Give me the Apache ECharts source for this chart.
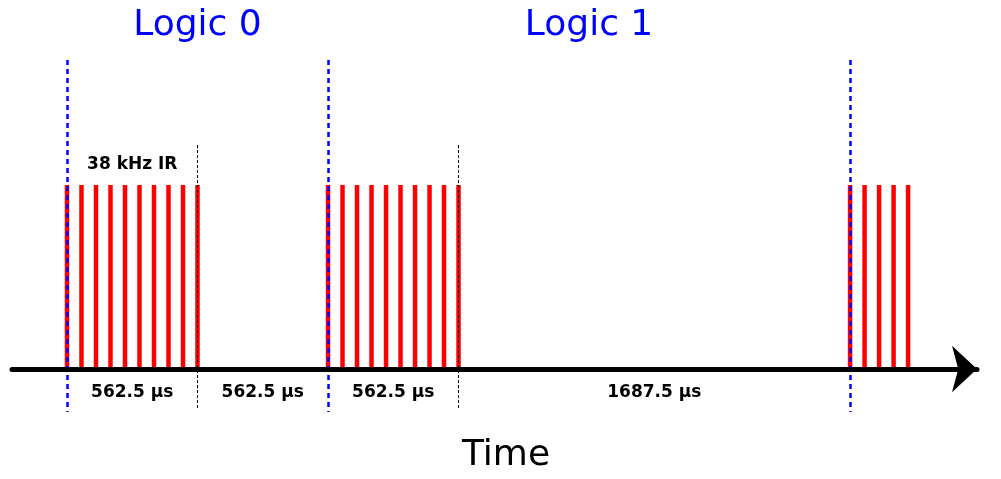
<!DOCTYPE html>
<html>
<head>
<meta charset="utf-8">
<script src="https://cdn.jsdelivr.net/npm/echarts@6/dist/echarts.min.js"></script>
<style>
  html, body { margin: 0; padding: 0; background: #fff; }
  #main { width: 1001px; height: 479px; }
</style>
</head>
<body>
<div id="main"></div>
<script>
// carrier stripes (µs) for each burst
var burst0 = [0, 62.5, 125, 187.5, 250, 312.5, 375, 437.5, 500, 562.5];
var burst1 = [1125, 1187.5, 1250, 1312.5, 1375, 1437.5, 1500, 1562.5, 1625, 1687.5];
var burst2 = [3375, 3437.5, 3500, 3562.5, 3625];
var pulseLevel = 1;

// bit boundaries (blue) and burst ends (black)
var bitEdges = [0, 1125, 3375];
var burstEnds = [562.5, 1687.5];

// duration labels
var spanCenters = [281.25, 843.75, 1406.25, 2531.25];
var spanLabels = ["562.5 µs", "562.5 µs", "562.5 µs", "1687.5 µs"];

// bit titles
var bitCenters = [562.5, 2250];
var bitTitles = ["Logic 0", "Logic 1"];

var carrierLabel = "38 kHz IR";
var carrierCenter = 281.25;

var myChart = echarts.init(document.getElementById('main'), null, { renderer: 'canvas' });

var stripes = [];
[burst0, burst1, burst2].forEach(function (b) {
  b.forEach(function (t) { stripes.push([t, pulseLevel]); });
});

var vLines = [];
bitEdges.forEach(function (t) {
  vLines.push([
    { coord: [t, 1.679], lineStyle: { color: '#0000ff', width: 2.5, type: [5, 4] } },
    { coord: [t, -0.234] }
  ]);
});
burstEnds.forEach(function (t) {
  vLines.push([
    { coord: [t, 1.217], lineStyle: { color: '#000', width: 1, type: [3, 2] } },
    { coord: [t, -0.223] }
  ]);
});

var font = '"DejaVu Sans", Verdana, sans-serif';

// text-only scatter layer
function textLayer(points, y, names, size, weight, color) {
  return {
    type: 'scatter',
    symbolSize: 0,
    z: 7,
    itemStyle: { opacity: 1 },
    data: points.map(function (t, i) { return { value: [t, y], name: names[i] }; }),
    label: {
      show: true, position: 'inside', formatter: '{b}',
      fontFamily: font, fontSize: size, fontWeight: weight, color: color
    }
  };
}

var option = {
  animation: false,
  grid: { left: 12, right: 24, top: 19.4, bottom: 54.8, containLabel: false, outerBoundsMode: 'none' },
  xAxis: {
    type: 'value',
    min: -237,
    max: 3922,
    z: 5,
    axisLine: {
      onZero: true,
      symbol: ['none', 'arrow'],
      symbolSize: [35, 25],
      lineStyle: { color: '#000', width: 5 }
    },
    axisTick: { show: false },
    axisLabel: { show: false },
    splitLine: { show: false },
    name: 'Time',
    nameLocation: 'middle',
    nameGap: 13,
    nameTextStyle: { fontFamily: font, fontSize: 36, color: '#000', padding: [0, 0, 0, 23] }
  },
  yAxis: {
    type: 'value',
    min: -0.3,
    max: 1.9,
    show: false,
    splitLine: { show: false }
  },
  series: [{
    type: 'bar',
    data: stripes,
    barWidth: 4.5,
    itemStyle: { color: '#ff0000' },
    silent: true,
    z: 2
  }, {
    type: 'scatter',
    data: [],
    z: 6,
    markLine: {
      silent: true,
      symbol: ['none', 'none'],
      label: { show: false },
      data: vLines
    }
  },
    textLayer(spanCenters, -0.13, spanLabels, 17, 'bold', '#000'),
    textLayer([carrierCenter], 1.109, [carrierLabel], 17, 'bold', '#000'),
    textLayer(bitCenters, 1.864, bitTitles, 36, 'normal', '#0000ff')
  ]
};

myChart.setOption(option);
</script>
</body>
</html>
